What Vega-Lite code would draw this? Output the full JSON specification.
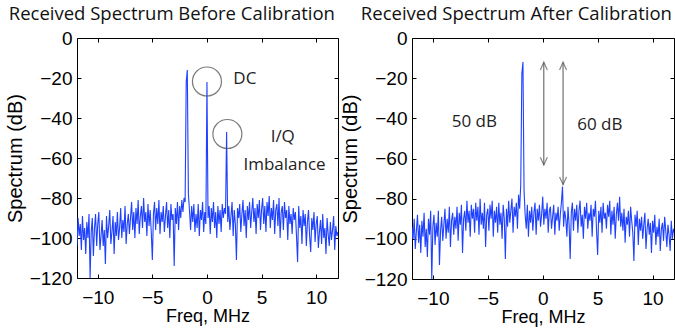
{
  "$schema": "https://vega.github.io/schema/vega-lite/v6.json",
  "padding": {"left": 4, "top": 4, "right": 0, "bottom": 0},
  "spacing": 0,
  "align": "none",
  "datasets": {
    "before": [
      {"f":-12.0,"s":-96},{"f":-11.9,"s":-104},{"f":-11.8,"s":-90},{"f":-11.7,"s":-99},{"f":-11.6,"s":-93},{"f":-11.5,"s":-106},{"f":-11.4,"s":-89},{"f":-11.3,"s":-101},{"f":-11.2,"s":-95},{"f":-11.1,"s":-108},
      {"f":-11.0,"s":-92},{"f":-10.9,"s":-100},{"f":-10.8,"s":-88},{"f":-10.7,"s":-120},{"f":-10.6,"s":-97},{"f":-10.5,"s":-90},{"f":-10.4,"s":-109},{"f":-10.3,"s":-95},{"f":-10.2,"s":-88},{"f":-10.1,"s":-104},
      {"f":-10.0,"s":-93},{"f":-9.9,"s":-87},{"f":-9.8,"s":-106},{"f":-9.7,"s":-99},{"f":-9.6,"s":-91},{"f":-9.5,"s":-104},{"f":-9.4,"s":-96},{"f":-9.3,"s":-113},{"f":-9.2,"s":-89},{"f":-9.1,"s":-100},
      {"f":-9.0,"s":-94},{"f":-8.9,"s":-86},{"f":-8.8,"s":-103},{"f":-8.7,"s":-97},{"f":-8.6,"s":-89},{"f":-8.5,"s":-108},{"f":-8.4,"s":-92},{"f":-8.3,"s":-99},{"f":-8.2,"s":-87},{"f":-8.1,"s":-101},
      {"f":-8.0,"s":-95},{"f":-7.9,"s":-85},{"f":-7.8,"s":-100},{"f":-7.7,"s":-91},{"f":-7.6,"s":-97},{"f":-7.5,"s":-84},{"f":-7.4,"s":-103},{"f":-7.3,"s":-93},{"f":-7.2,"s":-88},{"f":-7.1,"s":-98},
      {"f":-7.0,"s":-90},{"f":-6.9,"s":-82},{"f":-6.8,"s":-96},{"f":-6.7,"s":-87},{"f":-6.6,"s":-100},{"f":-6.5,"s":-85},{"f":-6.4,"s":-93},{"f":-6.3,"s":-81},{"f":-6.2,"s":-98},{"f":-6.1,"s":-89},
      {"f":-6.0,"s":-84},{"f":-5.9,"s":-95},{"f":-5.8,"s":-80},{"f":-5.7,"s":-92},{"f":-5.6,"s":-87},{"f":-5.5,"s":-99},{"f":-5.4,"s":-83},{"f":-5.3,"s":-94},{"f":-5.2,"s":-86},{"f":-5.1,"s":-97},
      {"f":-5.0,"s":-111},{"f":-4.9,"s":-88},{"f":-4.8,"s":-82},{"f":-4.7,"s":-96},{"f":-4.6,"s":-85},{"f":-4.5,"s":-93},{"f":-4.4,"s":-81},{"f":-4.3,"s":-98},{"f":-4.2,"s":-87},{"f":-4.1,"s":-92},
      {"f":-4.0,"s":-84},{"f":-3.9,"s":-97},{"f":-3.8,"s":-89},{"f":-3.7,"s":-82},{"f":-3.6,"s":-95},{"f":-3.5,"s":-86},{"f":-3.4,"s":-100},{"f":-3.3,"s":-83},{"f":-3.2,"s":-91},{"f":-3.1,"s":-88},
      {"f":-3.0,"s":-114},{"f":-2.9,"s":-85},{"f":-2.8,"s":-93},{"f":-2.7,"s":-82},{"f":-2.6,"s":-96},{"f":-2.5,"s":-84},{"f":-2.4,"s":-90},{"f":-2.3,"s":-81},{"f":-2.2,"s":-87},{"f":-2.1,"s":-80},
      {"f":-2.0,"s":-82},{"f":-1.9,"s":-22},{"f":-1.8,"s":-16},{"f":-1.7,"s":-78},{"f":-1.6,"s":-86},{"f":-1.5,"s":-96},{"f":-1.4,"s":-84},{"f":-1.3,"s":-92},{"f":-1.2,"s":-83},{"f":-1.1,"s":-97},
      {"f":-1.0,"s":-88},{"f":-0.9,"s":-95},{"f":-0.8,"s":-83},{"f":-0.7,"s":-99},{"f":-0.6,"s":-86},{"f":-0.5,"s":-91},{"f":-0.4,"s":-82},{"f":-0.3,"s":-97},{"f":-0.2,"s":-87},{"f":-0.1,"s":-93},
      {"f":0.0,"s":-22},{"f":0.1,"s":-90},{"f":0.2,"s":-84},{"f":0.3,"s":-98},{"f":0.4,"s":-85},{"f":0.5,"s":-92},{"f":0.6,"s":-82},{"f":0.7,"s":-95},{"f":0.8,"s":-87},{"f":0.9,"s":-100},
      {"f":1.0,"s":-84},{"f":1.1,"s":-93},{"f":1.2,"s":-86},{"f":1.3,"s":-97},{"f":1.4,"s":-83},{"f":1.5,"s":-90},{"f":1.6,"s":-85},{"f":1.7,"s":-88},{"f":1.8,"s":-47},{"f":1.9,"s":-92},
      {"f":2.0,"s":-84},{"f":2.1,"s":-96},{"f":2.2,"s":-89},{"f":2.3,"s":-82},{"f":2.4,"s":-99},{"f":2.5,"s":-86},{"f":2.6,"s":-93},{"f":2.7,"s":-111},{"f":2.8,"s":-85},{"f":2.9,"s":-90},
      {"f":3.0,"s":-83},{"f":3.1,"s":-97},{"f":3.2,"s":-88},{"f":3.3,"s":-81},{"f":3.4,"s":-94},{"f":3.5,"s":-86},{"f":3.6,"s":-100},{"f":3.7,"s":-84},{"f":3.8,"s":-91},{"f":3.9,"s":-82},
      {"f":4.0,"s":-95},{"f":4.1,"s":-87},{"f":4.2,"s":-80},{"f":4.3,"s":-92},{"f":4.4,"s":-85},{"f":4.5,"s":-98},{"f":4.6,"s":-83},{"f":4.7,"s":-90},{"f":4.8,"s":-81},{"f":4.9,"s":-96},
      {"f":5.0,"s":-86},{"f":5.1,"s":-80},{"f":5.2,"s":-93},{"f":5.3,"s":-84},{"f":5.4,"s":-97},{"f":5.5,"s":-82},{"f":5.6,"s":-89},{"f":5.7,"s":-79},{"f":5.8,"s":-95},{"f":5.9,"s":-85},
      {"f":6.0,"s":-91},{"f":6.1,"s":-81},{"f":6.2,"s":-98},{"f":6.3,"s":-86},{"f":6.4,"s":-83},{"f":6.5,"s":-94},{"f":6.6,"s":-80},{"f":6.7,"s":-100},{"f":6.8,"s":-87},{"f":6.9,"s":-84},
      {"f":7.0,"s":-96},{"f":7.1,"s":-82},{"f":7.2,"s":-90},{"f":7.3,"s":-86},{"f":7.4,"s":-101},{"f":7.5,"s":-84},{"f":7.6,"s":-93},{"f":7.7,"s":-88},{"f":7.8,"s":-98},{"f":7.9,"s":-85},
      {"f":8.0,"s":-91},{"f":8.1,"s":-87},{"f":8.2,"s":-99},{"f":8.3,"s":-112},{"f":8.4,"s":-84},{"f":8.5,"s":-95},{"f":8.6,"s":-89},{"f":8.7,"s":-103},{"f":8.8,"s":-86},{"f":8.9,"s":-94},
      {"f":9.0,"s":-88},{"f":9.1,"s":-104},{"f":9.2,"s":-92},{"f":9.3,"s":-86},{"f":9.4,"s":-99},{"f":9.5,"s":-107},{"f":9.6,"s":-90},{"f":9.7,"s":-96},{"f":9.8,"s":-87},{"f":9.9,"s":-102},
      {"f":10.0,"s":-93},{"f":10.1,"s":-89},{"f":10.2,"s":-105},{"f":10.3,"s":-97},{"f":10.4,"s":-91},{"f":10.5,"s":-103},{"f":10.6,"s":-88},{"f":10.7,"s":-100},{"f":10.8,"s":-95},{"f":10.9,"s":-108},
      {"f":11.0,"s":-90},{"f":11.1,"s":-98},{"f":11.2,"s":-104},{"f":11.3,"s":-92},{"f":11.4,"s":-101},{"f":11.5,"s":-96},{"f":11.6,"s":-89},{"f":11.7,"s":-106},{"f":11.8,"s":-94},{"f":11.9,"s":-99},
      {"f":12.0,"s":-97}
    ],
    "after": [
      {"f":-12.0,"s":-112},{"f":-11.9,"s":-94},{"f":-11.8,"s":-100},{"f":-11.7,"s":-90},{"f":-11.6,"s":-105},{"f":-11.5,"s":-96},{"f":-11.4,"s":-88},{"f":-11.3,"s":-102},{"f":-11.2,"s":-93},{"f":-11.1,"s":-107},
      {"f":-11.0,"s":-91},{"f":-10.9,"s":-99},{"f":-10.8,"s":-87},{"f":-10.7,"s":-104},{"f":-10.6,"s":-95},{"f":-10.5,"s":-109},{"f":-10.4,"s":-90},{"f":-10.3,"s":-98},{"f":-10.2,"s":-86},{"f":-10.1,"s":-120},
      {"f":-10.0,"s":-94},{"f":-9.9,"s":-88},{"f":-9.8,"s":-103},{"f":-9.7,"s":-92},{"f":-9.6,"s":-99},{"f":-9.5,"s":-86},{"f":-9.4,"s":-113},{"f":-9.3,"s":-96},{"f":-9.2,"s":-89},{"f":-9.1,"s":-101},
      {"f":-9.0,"s":-93},{"f":-8.9,"s":-85},{"f":-8.8,"s":-100},{"f":-8.7,"s":-90},{"f":-8.6,"s":-97},{"f":-8.5,"s":-84},{"f":-8.4,"s":-104},{"f":-8.3,"s":-91},{"f":-8.2,"s":-87},{"f":-8.1,"s":-98},
      {"f":-8.0,"s":-89},{"f":-7.9,"s":-95},{"f":-7.8,"s":-84},{"f":-7.7,"s":-101},{"f":-7.6,"s":-87},{"f":-7.5,"s":-93},{"f":-7.4,"s":-83},{"f":-7.3,"s":-107},{"f":-7.2,"s":-90},{"f":-7.1,"s":-86},
      {"f":-7.0,"s":-96},{"f":-6.9,"s":-81},{"f":-6.8,"s":-92},{"f":-6.7,"s":-86},{"f":-6.6,"s":-99},{"f":-6.5,"s":-83},{"f":-6.4,"s":-90},{"f":-6.3,"s":-85},{"f":-6.2,"s":-97},{"f":-6.1,"s":-82},
      {"f":-6.0,"s":-91},{"f":-5.9,"s":-84},{"f":-5.8,"s":-98},{"f":-5.7,"s":-80},{"f":-5.6,"s":-93},{"f":-5.5,"s":-87},{"f":-5.4,"s":-95},{"f":-5.3,"s":-82},{"f":-5.2,"s":-104},{"f":-5.1,"s":-88},
      {"f":-5.0,"s":-85},{"f":-4.9,"s":-96},{"f":-4.8,"s":-83},{"f":-4.7,"s":-90},{"f":-4.6,"s":-81},{"f":-4.5,"s":-99},{"f":-4.4,"s":-86},{"f":-4.3,"s":-92},{"f":-4.2,"s":-84},{"f":-4.1,"s":-97},
      {"f":-4.0,"s":-82},{"f":-3.9,"s":-93},{"f":-3.8,"s":-87},{"f":-3.7,"s":-100},{"f":-3.6,"s":-83},{"f":-3.5,"s":-90},{"f":-3.4,"s":-110},{"f":-3.3,"s":-85},{"f":-3.2,"s":-94},{"f":-3.1,"s":-81},
      {"f":-3.0,"s":-92},{"f":-2.9,"s":-86},{"f":-2.8,"s":-80},{"f":-2.7,"s":-97},{"f":-2.6,"s":-84},{"f":-2.5,"s":-89},{"f":-2.4,"s":-82},{"f":-2.3,"s":-95},{"f":-2.2,"s":-78},{"f":-2.1,"s":-85},
      {"f":-2.0,"s":-73},{"f":-1.9,"s":-18},{"f":-1.8,"s":-12},{"f":-1.7,"s":-76},{"f":-1.6,"s":-88},{"f":-1.5,"s":-95},{"f":-1.4,"s":-83},{"f":-1.3,"s":-99},{"f":-1.2,"s":-86},{"f":-1.1,"s":-92},
      {"f":-1.0,"s":-84},{"f":-0.9,"s":-96},{"f":-0.8,"s":-87},{"f":-0.7,"s":-82},{"f":-0.6,"s":-98},{"f":-0.5,"s":-85},{"f":-0.4,"s":-91},{"f":-0.3,"s":-83},{"f":-0.2,"s":-94},{"f":-0.1,"s":-88},
      {"f":0.0,"s":-79},{"f":0.1,"s":-93},{"f":0.2,"s":-85},{"f":0.3,"s":-90},{"f":0.4,"s":-82},{"f":0.5,"s":-97},{"f":0.6,"s":-86},{"f":0.7,"s":-84},{"f":0.8,"s":-95},{"f":0.9,"s":-89},
      {"f":1.0,"s":-83},{"f":1.1,"s":-98},{"f":1.2,"s":-87},{"f":1.3,"s":-91},{"f":1.4,"s":-84},{"f":1.5,"s":-96},{"f":1.6,"s":-88},{"f":1.7,"s":-82},{"f":1.8,"s":-74},{"f":1.9,"s":-94},
      {"f":2.0,"s":-86},{"f":2.1,"s":-90},{"f":2.2,"s":-99},{"f":2.3,"s":-84},{"f":2.4,"s":-93},{"f":2.5,"s":-110},{"f":2.6,"s":-87},{"f":2.7,"s":-82},{"f":2.8,"s":-96},{"f":2.9,"s":-85},
      {"f":3.0,"s":-91},{"f":3.1,"s":-83},{"f":3.2,"s":-97},{"f":3.3,"s":-86},{"f":3.4,"s":-81},{"f":3.5,"s":-94},{"f":3.6,"s":-88},{"f":3.7,"s":-100},{"f":3.8,"s":-84},{"f":3.9,"s":-90},
      {"f":4.0,"s":-82},{"f":4.1,"s":-95},{"f":4.2,"s":-87},{"f":4.3,"s":-91},{"f":4.4,"s":-83},{"f":4.5,"s":-99},{"f":4.6,"s":-85},{"f":4.7,"s":-89},{"f":4.8,"s":-81},{"f":4.9,"s":-96},
      {"f":5.0,"s":-108},{"f":5.1,"s":-86},{"f":5.2,"s":-92},{"f":5.3,"s":-84},{"f":5.4,"s":-97},{"f":5.5,"s":-82},{"f":5.6,"s":-90},{"f":5.7,"s":-87},{"f":5.8,"s":-95},{"f":5.9,"s":-83},
      {"f":6.0,"s":-89},{"f":6.1,"s":-81},{"f":6.2,"s":-98},{"f":6.3,"s":-86},{"f":6.4,"s":-93},{"f":6.5,"s":-84},{"f":6.6,"s":-100},{"f":6.7,"s":-88},{"f":6.8,"s":-82},{"f":6.9,"s":-91},
      {"f":7.0,"s":-79},{"f":7.1,"s":-94},{"f":7.2,"s":-87},{"f":7.3,"s":-96},{"f":7.4,"s":-85},{"f":7.5,"s":-102},{"f":7.6,"s":-89},{"f":7.7,"s":-93},{"f":7.8,"s":-86},{"f":7.9,"s":-99},
      {"f":8.0,"s":-84},{"f":8.1,"s":-91},{"f":8.2,"s":-97},{"f":8.3,"s":-111},{"f":8.4,"s":-88},{"f":8.5,"s":-94},{"f":8.6,"s":-86},{"f":8.7,"s":-103},{"f":8.8,"s":-90},{"f":8.9,"s":-96},
      {"f":9.0,"s":-89},{"f":9.1,"s":-100},{"f":9.2,"s":-93},{"f":9.3,"s":-87},{"f":9.4,"s":-105},{"f":9.5,"s":-95},{"f":9.6,"s":-90},{"f":9.7,"s":-98},{"f":9.8,"s":-92},{"f":9.9,"s":-107},
      {"f":10.0,"s":-91},{"f":10.1,"s":-97},{"f":10.2,"s":-88},{"f":10.3,"s":-103},{"f":10.4,"s":-94},{"f":10.5,"s":-99},{"f":10.6,"s":-90},{"f":10.7,"s":-106},{"f":10.8,"s":-95},{"f":10.9,"s":-92},
      {"f":11.0,"s":-101},{"f":11.1,"s":-89},{"f":11.2,"s":-96},{"f":11.3,"s":-104},{"f":11.4,"s":-93},{"f":11.5,"s":-98},{"f":11.6,"s":-106},{"f":11.7,"s":-91},{"f":11.8,"s":-100},{"f":11.9,"s":-95},
      {"f":12.0,"s":-97}
    ],
    "circles": [{"f":0.0,"s":-21.75},{"f":1.87,"s":-48}],
    "labelsBefore": [{"f":3.47,"s":-20.5,"t":"DC"},{"f":6.94,"s":-49.25,"t":"I/Q"},{"f":7.1,"s":-63.5,"t":"Imbalance"}],
    "labelsAfter": [{"f":-6.23,"s":-41.8,"t":"50 dB"},{"f":5.2,"s":-43.3,"t":"60 dB"}],
    "arrows": [{"f":0.1,"s":-12.1,"s2":-63.2},{"f":1.85,"s":-12.1,"s2":-73.0}],
    "heads": [{"f":0.1,"s":-12.1,"d":"up"},{"f":0.1,"s":-63.2,"d":"down"},{"f":1.85,"s":-12.1,"d":"up"},{"f":1.85,"s":-73.0,"d":"down"}]
  },
  "config": {
    "view": {"stroke": "#000", "strokeWidth": 1},
    "axis": {
      "domain": false, "grid": false, "tickColor": "#000", "tickSize": -4, "tickWidth": 1,
      "labelFont": "Liberation Sans", "labelFontSize": 19, "labelColor": "#000", "labelFlush": false,
      "titleFont": "Liberation Sans", "titleFontWeight": "normal", "titleColor": "#000"
    },
    "title": {"font": "Open Sans", "fontSize": 18.5, "fontWeight": "normal", "color": "#111", "anchor": "middle", "frame": "bounds"}
  },
  "hconcat": [
    {
      "title": {"text": "Received Spectrum Before Calibration", "offset": 6},
      "width": 261, "height": 240,
      "resolve": {"axis": {"x": "independent", "y": "independent"}},
      "layer": [
        {
          "data": {"name": "before"},
          "mark": {"type": "line", "color": "#1e40ff", "strokeWidth": 1.1, "clip": true},
          "encoding": {
            "x": {"field": "f", "type": "quantitative", "scale": {"domain": [-11.9, 12], "nice": false, "zero": false},
                  "axis": {"values": [-10, -5, 0, 5, 10], "title": "Freq, MHz", "titleFontSize": 18, "labelPadding": 14, "titlePadding": 0}},
            "y": {"field": "s", "type": "quantitative", "scale": {"domain": [-120, 0], "nice": false, "zero": false},
                  "axis": {"values": [-120, -100, -80, -60, -40, -20, 0], "title": "Spectrum (dB)", "titleFontSize": 20, "labelPadding": 9, "titlePadding": 4}}
          }
        },
        {
          "data": {"name": "circles"},
          "mark": {"type": "point", "shape": "circle", "filled": false, "size": 841, "stroke": "#444", "strokeWidth": 1.2},
          "encoding": {
            "x": {"field": "f", "type": "quantitative", "scale": {"domain": [-11.9, 12], "nice": false, "zero": false},
                  "axis": {"orient": "top", "values": [-10, -5, 0, 5, 10], "labels": false, "title": null}},
            "y": {"field": "s", "type": "quantitative", "scale": {"domain": [-120, 0], "nice": false, "zero": false},
                  "axis": {"orient": "right", "values": [-120, -100, -80, -60, -40, -20, 0], "labels": false, "title": null, "minExtent": 0, "maxExtent": 0}}
          }
        },
        {
          "data": {"name": "labelsBefore"},
          "mark": {"type": "text", "font": "Open Sans", "fontSize": 17, "color": "#222", "align": "center", "baseline": "middle"},
          "encoding": {
            "x": {"field": "f", "type": "quantitative", "axis": null},
            "y": {"field": "s", "type": "quantitative", "axis": null},
            "text": {"field": "t"}
          }
        }
      ]
    },
    {
      "title": {"text": "Received Spectrum After Calibration", "offset": 6, "dx": 9},
      "width": 262, "height": 241,
      "resolve": {"axis": {"x": "independent", "y": "independent"}},
      "layer": [
        {
          "data": {"name": "after"},
          "mark": {"type": "line", "color": "#1e40ff", "strokeWidth": 1.1, "clip": true},
          "encoding": {
            "x": {"field": "f", "type": "quantitative", "scale": {"domain": [-11.9, 11.95], "nice": false, "zero": false},
                  "axis": {"values": [-10, -5, 0, 5, 10], "title": "Freq, MHz", "titleFontSize": 18, "labelPadding": 14, "titlePadding": 0}},
            "y": {"field": "s", "type": "quantitative", "scale": {"domain": [-120, 0], "nice": false, "zero": false},
                  "axis": {"values": [-120, -100, -80, -60, -40, -20, 0], "title": "Spectrum (dB)", "titleFontSize": 20, "labelPadding": 9, "titlePadding": 4}}
          }
        },
        {
          "data": {"name": "arrows"},
          "mark": {"type": "rule", "color": "#555", "strokeWidth": 1},
          "encoding": {
            "x": {"field": "f", "type": "quantitative", "scale": {"domain": [-11.9, 11.95], "nice": false, "zero": false},
                  "axis": {"orient": "top", "values": [-10, -5, 0, 5, 10], "labels": false, "title": null}},
            "y": {"field": "s", "type": "quantitative", "scale": {"domain": [-120, 0], "nice": false, "zero": false},
                  "axis": {"orient": "right", "values": [-120, -100, -80, -60, -40, -20, 0], "labels": false, "title": null, "minExtent": 0, "maxExtent": 0}},
            "y2": {"field": "s2"}
          }
        },
        {
          "data": {"name": "heads"},
          "mark": {"type": "point", "filled": false, "size": 49, "stroke": "#555", "strokeWidth": 1.2},
          "encoding": {
            "x": {"field": "f", "type": "quantitative", "axis": null},
            "y": {"field": "s", "type": "quantitative", "axis": null},
            "shape": {"field": "d", "type": "nominal", "legend": null,
                      "scale": {"domain": ["up", "down"], "range": ["M-1,2.2L0,0L1,2.2", "M-1,-2.2L0,0L1,-2.2"]}}
          }
        },
        {
          "data": {"name": "labelsAfter"},
          "mark": {"type": "text", "font": "Open Sans", "fontSize": 17, "color": "#222", "align": "center", "baseline": "middle"},
          "encoding": {
            "x": {"field": "f", "type": "quantitative", "axis": null},
            "y": {"field": "s", "type": "quantitative", "axis": null},
            "text": {"field": "t"}
          }
        }
      ]
    }
  ]
}
